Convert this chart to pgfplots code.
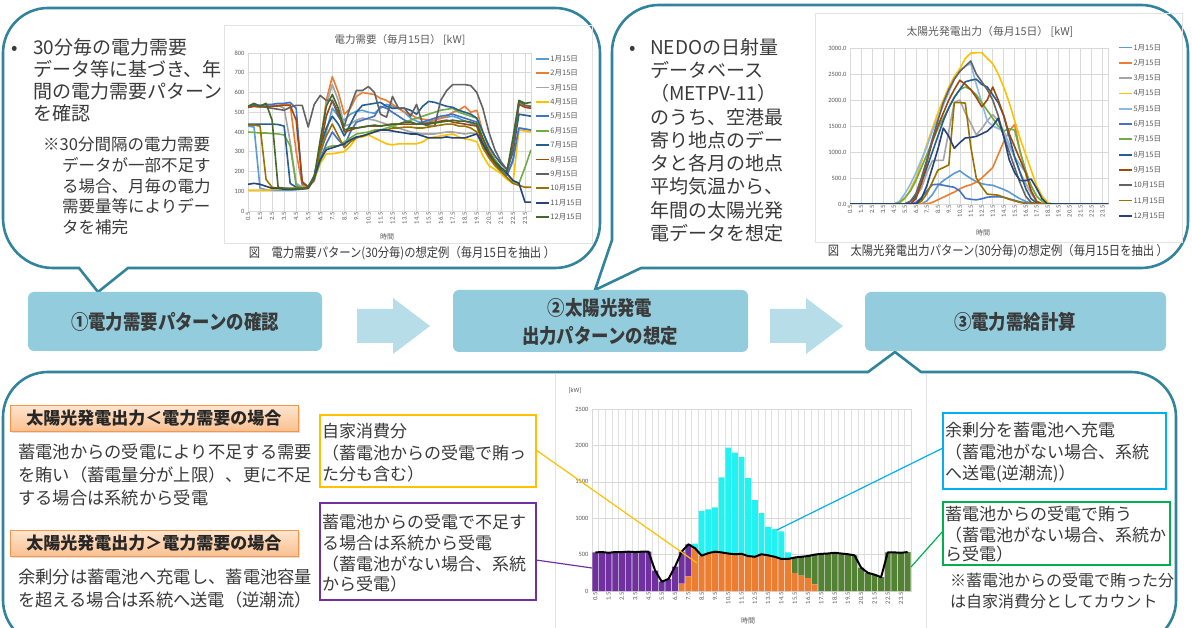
\documentclass[border=0pt]{standalone}
\usepackage{pgfplots}
\pgfplotsset{compat=1.18}
\usepackage{pgfplotstable}
\usepackage{fontspec}
\setmainfont{Noto Sans CJK JP}
\newfontfamily\numfont{Carlito}
\newfontfamily\condfont[FakeStretch=0.87]{Noto Sans CJK JP}

\definecolor{bubcol}{HTML}{31849B}
\definecolor{boxfill}{HTML}{93CDDD}
\definecolor{arrowfill}{HTML}{B7DEE8}
\definecolor{txt}{HTML}{3A3A3A}
\definecolor{gridc}{HTML}{D9D9D9}
\definecolor{tickc}{HTML}{595959}
\definecolor{framec}{HTML}{E3E3E3}
\definecolor{ybox}{HTML}{FFC000}
\definecolor{pbox}{HTML}{7030A0}
\definecolor{cbox}{HTML}{00B0F0}
\definecolor{gbox}{HTML}{00B050}
\definecolor{hdrline}{HTML}{F79646}
\definecolor{hdrtop}{HTML}{FDE5D0}
\definecolor{hdrbot}{HTML}{FAC090}
\definecolor{bpur}{HTML}{7030A0}
\definecolor{bora}{HTML}{ED7D31}
\definecolor{bcya}{HTML}{22F2F2}
\definecolor{bgre}{HTML}{548235}
% chart 1 series colours
\definecolor{cA}{HTML}{5B9BD5}\definecolor{cB}{HTML}{ED7D31}\definecolor{cC}{HTML}{A5A5A5}
\definecolor{cD}{HTML}{FFC000}\definecolor{cE}{HTML}{4472C4}\definecolor{cF}{HTML}{70AD47}
\definecolor{cG}{HTML}{255E91}\definecolor{cH}{HTML}{9E480E}\definecolor{cI}{HTML}{636363}
\definecolor{cJ}{HTML}{997300}\definecolor{cK}{HTML}{264478}\definecolor{cL}{HTML}{43682B}
% chart 2 series colours
\definecolor{dA}{HTML}{5B9BD5}\definecolor{dB}{HTML}{ED7D31}\definecolor{dC}{HTML}{A5A5A5}
\definecolor{dD}{HTML}{FFC000}\definecolor{dE}{HTML}{8DB9E6}\definecolor{dF}{HTML}{4472C4}
\definecolor{dG}{HTML}{70AD47}\definecolor{dH}{HTML}{255E91}\definecolor{dI}{HTML}{9E480E}
\definecolor{dJ}{HTML}{636363}\definecolor{dK}{HTML}{997300}\definecolor{dL}{HTML}{264478}

% ---------- chart 1: electricity demand (kW), 48 half-hours 0.5 ... 24.0
\pgfplotstableread[row sep=\\]{v\\430\\425\\115\\108\\105\\105\\105\\105\\108\\110\\115\\160\\280\\400\\520\\480\\460\\490\\505\\510\\500\\495\\520\\540\\530\\520\\500\\470\\455\\445\\450\\460\\470\\475\\480\\470\\455\\445\\430\\360\\300\\250\\210\\180\\250\\420\\415\\410\\}\eA
\pgfplotstableread[row sep=\\]{v\\525\\530\\525\\530\\530\\535\\540\\540\\300\\130\\120\\160\\330\\560\\680\\600\\490\\520\\580\\600\\595\\590\\570\\560\\540\\520\\500\\490\\470\\465\\460\\460\\470\\480\\500\\510\\530\\500\\510\\400\\320\\260\\220\\200\\330\\550\\530\\525\\}\eB
\pgfplotstableread[row sep=\\]{v\\530\\535\\530\\535\\535\\535\\520\\350\\140\\120\\120\\150\\320\\540\\640\\560\\430\\440\\460\\470\\465\\460\\450\\440\\430\\420\\410\\400\\395\\390\\390\\390\\395\\400\\400\\395\\390\\395\\390\\340\\280\\240\\210\\200\\300\\545\\535\\530\\}\eC
\pgfplotstableread[row sep=\\]{v\\105\\105\\105\\105\\108\\110\\110\\110\\112\\112\\115\\160\\240\\290\\290\\295\\300\\330\\370\\375\\385\\370\\355\\340\\335\\340\\340\\340\\340\\350\\370\\375\\380\\385\\390\\375\\365\\360\\350\\280\\230\\210\\190\\160\\140\\410\\405\\400\\}\eD
\pgfplotstableread[row sep=\\]{v\\530\\540\\535\\540\\540\\545\\545\\550\\520\\140\\125\\170\\260\\340\\400\\360\\330\\400\\450\\460\\470\\480\\530\\520\\500\\480\\460\\450\\440\\450\\460\\470\\480\\485\\490\\480\\470\\460\\450\\340\\280\\240\\200\\180\\260\\420\\415\\410\\}\eE
\pgfplotstableread[row sep=\\]{v\\400\\398\\395\\395\\392\\390\\385\\330\\130\\115\\120\\160\\250\\320\\330\\330\\350\\370\\390\\395\\400\\410\\410\\420\\430\\440\\450\\460\\470\\480\\490\\500\\510\\515\\520\\500\\490\\480\\470\\360\\300\\260\\220\\190\\150\\140\\220\\310\\}\eF
\pgfplotstableread[row sep=\\]{v\\440\\440\\440\\440\\440\\438\\430\\140\\120\\115\\120\\180\\320\\420\\480\\440\\380\\440\\500\\535\\540\\545\\550\\530\\520\\520\\520\\510\\490\\530\\555\\550\\540\\530\\525\\510\\500\\490\\470\\400\\330\\280\\240\\210\\300\\490\\485\\480\\}\eG
\pgfplotstableread[row sep=\\]{v\\525\\530\\528\\530\\530\\532\\535\\535\\460\\150\\120\\160\\320\\480\\560\\500\\400\\410\\420\\425\\430\\430\\430\\435\\440\\440\\440\\440\\440\\440\\445\\450\\455\\460\\450\\445\\440\\435\\430\\340\\280\\240\\210\\200\\320\\540\\525\\520\\}\eH
\pgfplotstableread[row sep=\\]{v\\530\\535\\530\\525\\520\\515\\510\\525\\535\\535\\425\\540\\585\\560\\560\\480\\430\\530\\610\\610\\630\\600\\490\\475\\580\\520\\520\\480\\540\\440\\430\\430\\560\\610\\640\\640\\640\\635\\600\\520\\400\\310\\250\\210\\310\\555\\535\\530\\}\eI
\pgfplotstableread[row sep=\\]{v\\435\\435\\430\\160\\120\\115\\115\\115\\115\\115\\118\\170\\300\\380\\440\\380\\320\\350\\370\\380\\390\\400\\410\\410\\420\\420\\425\\425\\420\\420\\425\\430\\435\\440\\440\\430\\430\\420\\400\\320\\270\\230\\200\\170\\140\\130\\120\\120\\}\eJ
\pgfplotstableread[row sep=\\]{v\\135\\140\\135\\125\\115\\115\\110\\110\\110\\112\\115\\170\\260\\310\\320\\330\\340\\360\\375\\380\\390\\400\\410\\410\\405\\400\\395\\390\\390\\380\\370\\370\\370\\375\\370\\370\\370\\380\\390\\340\\290\\250\\220\\190\\155\\140\\45\\45\\}\eK
\pgfplotstableread[row sep=\\]{v\\530\\545\\530\\545\\460\\120\\115\\112\\112\\112\\118\\170\\360\\530\\590\\520\\410\\420\\420\\425\\430\\435\\430\\435\\440\\440\\450\\450\\440\\440\\440\\445\\450\\455\\460\\455\\455\\450\\440\\370\\300\\250\\210\\200\\370\\560\\545\\550\\}\eL

% ---------- chart 2: PV output (kW)
\pgfplotstableread[row sep=\\]{v\\0\\0\\0\\0\\0\\0\\0\\0\\0\\0\\0\\0\\0\\0\\60\\180\\350\\450\\520\\590\\640\\560\\490\\430\\390\\370\\360\\320\\280\\230\\160\\100\\50\\20\\0\\0\\0\\0\\0\\0\\0\\0\\0\\0\\0\\0\\0\\0\\}\sA
\pgfplotstableread[row sep=\\]{v\\0\\0\\0\\0\\0\\0\\0\\0\\0\\0\\0\\0\\0\\0\\0\\30\\80\\130\\180\\230\\290\\340\\370\\420\\500\\600\\700\\950\\1200\\1400\\1530\\1000\\600\\250\\50\\0\\0\\0\\0\\0\\0\\0\\0\\0\\0\\0\\0\\0\\}\sB
\pgfplotstableread[row sep=\\]{v\\0\\0\\0\\0\\0\\0\\0\\0\\0\\0\\0\\50\\150\\300\\600\\830\\840\\840\\1400\\1950\\2000\\1750\\1550\\1330\\1450\\1600\\1720\\1600\\1400\\1150\\900\\600\\400\\200\\50\\0\\0\\0\\0\\0\\0\\0\\0\\0\\0\\0\\0\\0\\}\sC
\pgfplotstableread[row sep=\\]{v\\0\\0\\0\\0\\0\\0\\0\\0\\0\\20\\100\\280\\500\\800\\1150\\1450\\1750\\2000\\2250\\2450\\2600\\2800\\2900\\2910\\2910\\2800\\2700\\2500\\2250\\1950\\1600\\1250\\950\\650\\350\\150\\30\\0\\0\\0\\0\\0\\0\\0\\0\\0\\0\\0\\}\sD
\pgfplotstableread[row sep=\\]{v\\0\\0\\0\\0\\0\\0\\0\\0\\0\\50\\200\\380\\600\\850\\1100\\1400\\1650\\1900\\2150\\2400\\2550\\2650\\2700\\2300\\1950\\1600\\1500\\1450\\1400\\1100\\900\\750\\600\\350\\150\\50\\0\\0\\0\\0\\0\\0\\0\\0\\0\\0\\0\\0\\}\sE
\pgfplotstableread[row sep=\\]{v\\0\\0\\0\\0\\0\\0\\0\\0\\0\\0\\0\\0\\30\\120\\250\\370\\380\\360\\340\\320\\250\\110\\90\\80\\100\\130\\140\\140\\130\\100\\70\\40\\20\\0\\0\\0\\0\\0\\0\\0\\0\\0\\0\\0\\0\\0\\0\\0\\}\sF
\pgfplotstableread[row sep=\\]{v\\0\\0\\0\\0\\0\\0\\0\\0\\0\\30\\120\\250\\450\\700\\950\\1200\\1450\\1650\\1850\\2050\\2200\\2250\\2200\\2100\\1950\\1800\\1650\\1500\\1400\\1450\\1420\\1000\\650\\350\\150\\50\\0\\0\\0\\0\\0\\0\\0\\0\\0\\0\\0\\0\\}\sG
\pgfplotstableread[row sep=\\]{v\\0\\0\\0\\0\\0\\0\\0\\0\\0\\0\\0\\50\\150\\400\\700\\1000\\1300\\1600\\1850\\2050\\2200\\2350\\2380\\2400\\2300\\2250\\2100\\1950\\1700\\1300\\900\\600\\300\\100\\20\\0\\0\\0\\0\\0\\0\\0\\0\\0\\0\\0\\0\\0\\}\sH
\pgfplotstableread[row sep=\\]{v\\0\\0\\0\\0\\0\\0\\0\\0\\0\\0\\0\\0\\100\\400\\800\\1200\\1500\\1750\\2000\\2200\\2380\\2300\\2200\\2050\\1870\\2000\\2250\\2000\\1700\\1350\\1100\\850\\600\\250\\50\\0\\0\\0\\0\\0\\0\\0\\0\\0\\0\\0\\0\\0\\}\sI
\pgfplotstableread[row sep=\\]{v\\0\\0\\0\\0\\0\\0\\0\\0\\0\\0\\0\\50\\200\\500\\850\\1250\\1600\\1950\\2200\\2400\\2550\\2650\\2750\\2500\\2350\\2200\\2000\\1700\\1300\\1000\\700\\400\\150\\30\\0\\0\\0\\0\\0\\0\\0\\0\\0\\0\\0\\0\\0\\0\\}\sJ
\pgfplotstableread[row sep=\\]{v\\0\\0\\0\\0\\0\\0\\0\\0\\0\\0\\0\\0\\0\\50\\200\\420\\650\\700\\750\\1950\\1950\\1940\\1100\\500\\330\\190\\180\\170\\130\\90\\60\\30\\10\\0\\0\\0\\0\\0\\0\\0\\0\\0\\0\\0\\0\\0\\0\\0\\}\sK
\pgfplotstableread[row sep=\\]{v\\0\\0\\0\\0\\0\\0\\0\\0\\0\\0\\0\\0\\0\\100\\350\\700\\1050\\1460\\1300\\1070\\1180\\1270\\1280\\1300\\1350\\1400\\1500\\1650\\1300\\850\\600\\450\\450\\480\\300\\100\\0\\0\\0\\0\\0\\0\\0\\0\\0\\0\\0\\0\\}\sL

% ---------- chart 3: supply / demand balance (kW)
\pgfplotstableread[row sep=\\]{v\\0\\0\\0\\0\\0\\0\\0\\0\\0\\0\\0\\0\\0\\100\\200\\587\\486\\520\\540\\530\\515\\505\\510\\480\\470\\505\\490\\470\\440\\440\\250\\210\\180\\90\\0\\0\\0\\0\\0\\0\\0\\0\\0\\0\\0\\0\\0\\0\\}\bO
\pgfplotstableread[row sep=\\]{v\\530\\535\\525\\535\\535\\540\\535\\540\\540\\280\\128\\165\\335\\441\\442\\0\\0\\0\\0\\0\\0\\0\\0\\0\\0\\0\\0\\0\\0\\0\\0\\0\\0\\0\\0\\0\\0\\0\\0\\0\\0\\0\\0\\0\\0\\0\\0\\0\\}\bP
\pgfplotstableread[row sep=\\]{v\\0\\0\\0\\0\\0\\0\\0\\0\\0\\0\\0\\0\\0\\0\\0\\63\\614\\600\\610\\1030\\1455\\1395\\1330\\1070\\780\\565\\390\\380\\380\\90\\0\\0\\0\\0\\0\\0\\0\\0\\0\\0\\0\\0\\0\\0\\0\\0\\0\\0\\}\bC
\pgfplotstableread[row sep=\\]{v\\0\\0\\0\\0\\0\\0\\0\\0\\0\\0\\0\\0\\0\\0\\0\\0\\0\\0\\0\\0\\0\\0\\0\\0\\0\\0\\0\\0\\0\\0\\210\\260\\300\\410\\510\\515\\525\\515\\505\\490\\320\\250\\225\\190\\530\\530\\525\\535\\}\bG
\pgfplotstableread[row sep=\\]{v\\530\\535\\525\\535\\535\\540\\535\\540\\540\\280\\128\\165\\335\\541\\642\\587\\486\\520\\540\\530\\515\\505\\510\\480\\470\\505\\490\\470\\440\\440\\460\\470\\480\\500\\510\\515\\525\\515\\505\\490\\320\\250\\225\\190\\530\\530\\525\\535\\}\bD

\pgfplotsset{
  linechart/.style={
    scale only axis, anchor=north west,
    xmin=0, xmax=47, ymin=0,
    axis line style={draw=gridc, line width=0.5pt},
    grid=major, grid style={draw=gridc, line width=0.5pt},
    major tick length=0pt, minor tick length=0pt,
    xtick={0,2,...,46},
    xticklabel={\pgfmathparse{\tick/2+0.5}\pgfmathprintnumber[fixed,fixed zerofill,precision=1]{\pgfmathresult}},
    xticklabel style={rotate=90, anchor=east, inner sep=1.5pt},
    /pgf/number format/assume math mode=true,
    tick label style={font=\numfont\fontsize{6.5}{7}\selectfont, text=tickc},
    legend cell align=left,
    legend image code/.code={\draw[##1, line width=1.8pt] (0pt,0pt) -- (13pt,0pt);},
    every axis plot/.append style={line width=1.6pt, mark=none, line join=round},
  },
}

\tikzset{
  bub/.style={draw=bubcol, line width=2.6pt, fill=white, line join=miter},
  tl/.style={anchor=base west, inner sep=0pt, text=txt},
}

\begin{document}
\begin{tikzpicture}[x=1pt,y=1pt]
\path[use as bounding box, fill=white] (0,0) rectangle (1192,-628);
\coordinate (PA) at (248,-53);
\coordinate (PB) at (850,-48);
\coordinate (PC) at (592,-409);

% ================= speech bubbles
\draw[bub] (48,-8) -- (555,-8) arc[start angle=90,end angle=0,radius=45] -- (600,-223)
  arc[start angle=0,end angle=-90,radius=45] -- (128,-268) -- (98,-292) -- (79,-268) -- (53,-268)
  arc[start angle=-90,end angle=-180,radius=50] -- (3,-53) arc[start angle=180,end angle=90,radius=45] -- cycle;
\draw[bub] (659,-5) -- (1141,-5) arc[start angle=90,end angle=0,radius=47] -- (1188,-221)
  arc[start angle=0,end angle=-90,radius=47] -- (641,-268) -- (595,-290) -- (612,-240) -- (612,-52)
  arc[start angle=180,end angle=90,radius=47] -- cycle;
\draw[bub] (48,-372) -- (868,-372) -- (895,-352) -- (921,-372) -- (1131,-372)
  arc[start angle=90,end angle=0,radius=45] -- (1176,-600) arc[start angle=0,end angle=-90,radius=45]
  -- (48,-645) arc[start angle=-90,end angle=-180,radius=45] -- (3,-417)
  arc[start angle=180,end angle=90,radius=45] -- cycle;

% ================= process boxes and arrows
\fill[boxfill, rounded corners=6pt] (28,-292) rectangle (322,-351);
\fill[boxfill, rounded corners=6pt] (453,-290) rectangle (748,-352);
\fill[boxfill, rounded corners=6pt] (865,-292) rectangle (1166,-351);
\fill[arrowfill] (357,-309) -- (393,-309) -- (393,-298) -- (430,-326) -- (393,-354) -- (393,-343) -- (357,-343) -- cycle;
\fill[arrowfill] (770,-309) -- (806,-309) -- (806,-298) -- (843,-326) -- (806,-354) -- (806,-343) -- (770,-343) -- cycle;
\node[font=\condfont\bfseries\fontsize{20}{20}\selectfont, text=txt] at (175,-322) {①電力需要パターンの確認};
\node[font=\condfont\bfseries\fontsize{20}{20}\selectfont, text=txt] at (600,-308) {②太陽光発電};
\node[font=\condfont\bfseries\fontsize{20}{20}\selectfont, text=txt] at (600,-336) {出力パターンの想定};
\node[font=\condfont\bfseries\fontsize{20}{20}\selectfont, text=txt] at (1015,-322) {③電力需給計算};

% ================= bubble 1 text
\begin{scope}[font=\fontsize{19}{19}\selectfont]
\node[tl] at (11,-55) {•};
\node[tl] at (33,-55) {30分毎の電力需要};
\node[tl] at (33,-77) {データ等に基づき、年};
\node[tl] at (33,-99) {間の電力需要パターン};
\node[tl] at (33,-121) {を確認};
\end{scope}
\begin{scope}[font=\fontsize{16.5}{16.5}\selectfont]
\node[tl] at (43,-151) {※30分間隔の電力需要};
\node[tl] at (62,-172) {データが一部不足す};
\node[tl] at (62,-193) {る場合、月毎の電力};
\node[tl] at (62,-213) {需要量等によりデー};
\node[tl] at (62,-234) {タを補完};
\end{scope}

% ================= bubble 2 text
\begin{scope}[font=\fontsize{19}{19}\selectfont]
\node[tl] at (629,-54.2) {•};
\node[tl] at (650,-54.2) {NEDOの日射量};
\node[tl] at (650,-77.5) {データベース};
\node[tl] at (650,-100.8) {（METPV-11）};
\node[tl] at (650,-124.1) {のうち、空港最};
\node[tl] at (650,-147.4) {寄り地点のデー};
\node[tl] at (650,-170.7) {タと各月の地点};
\node[tl] at (650,-194) {平均気温から、};
\node[tl] at (650,-217.3) {年間の太陽光発};
\node[tl] at (650,-240.6) {電データを想定};
\end{scope}

% ================= chart 1 frame
\draw[framec, line width=0.6pt] (224,-25) rectangle (592,-243);
\node[font=\fontsize{10.5}{11}\selectfont, text=tickc] at (400,-40) {電力需要（毎月15日） [kW]};
\node[font=\fontsize{7}{7}\selectfont, text=tickc] at (387,-237) {時間};
\node[font=\condfont\fontsize{13}{13}\selectfont, text=txt] at (402,-253) {図　電力需要パターン(30分毎)の想定例（毎月15日を抽出 ）};

\begin{axis}[linechart, at={(PA)}, width=283pt, height=158pt, ymax=800,
  ytick={0,100,...,800},
  legend style={at={(1.014,0.99)}, anchor=north west, draw=none, fill=none,
    font=\fontsize{7.5}{8}\selectfont, inner sep=0pt, row sep=6.4pt,
    nodes={inner sep=0.5pt, text height=6pt, text depth=1pt, text=tickc}}]
\addplot[cA] table[x expr=\coordindex, y=v] {\eA}; \addlegendentry{1月15日}
\addplot[cB] table[x expr=\coordindex, y=v] {\eB}; \addlegendentry{2月15日}
\addplot[cC] table[x expr=\coordindex, y=v] {\eC}; \addlegendentry{3月15日}
\addplot[cD] table[x expr=\coordindex, y=v] {\eD}; \addlegendentry{4月15日}
\addplot[cE] table[x expr=\coordindex, y=v] {\eE}; \addlegendentry{5月15日}
\addplot[cF] table[x expr=\coordindex, y=v] {\eF}; \addlegendentry{6月15日}
\addplot[cG] table[x expr=\coordindex, y=v] {\eG}; \addlegendentry{7月15日}
\addplot[cH] table[x expr=\coordindex, y=v] {\eH}; \addlegendentry{8月15日}
\addplot[cI] table[x expr=\coordindex, y=v] {\eI}; \addlegendentry{9月15日}
\addplot[cJ] table[x expr=\coordindex, y=v] {\eJ}; \addlegendentry{10月15日}
\addplot[cK] table[x expr=\coordindex, y=v] {\eK}; \addlegendentry{11月15日}
\addplot[cL] table[x expr=\coordindex, y=v] {\eL}; \addlegendentry{12月15日}
\end{axis}

% ================= chart 2 frame
\draw[framec, line width=0.6pt] (815,-13) rectangle (1182,-242);
\node[font=\fontsize{10.8}{11}\selectfont, text=tickc] at (990,-32) {太陽光発電出力（毎月15日） [kW]};
\node[font=\fontsize{7}{7}\selectfont, text=tickc] at (983,-233) {時間};
\node[font=\condfont\fontsize{13}{13}\selectfont, text=txt] at (998,-251) {図　太陽光発電出力パターン(30分毎)の想定例（毎月15日を抽出 ）};

\begin{axis}[linechart, at={(PB)}, width=258pt, height=156pt, ymax=3000,
  ytick={0,500,...,3000},
  yticklabel style={/pgf/number format/.cd, fixed, fixed zerofill, precision=1, 1000 sep={}},
  legend style={at={(1.039,1.03)}, anchor=north west, draw=none, fill=none,
    font=\fontsize{7.5}{8}\selectfont, inner sep=0pt, row sep=7.3pt,
    nodes={inner sep=0.5pt, text height=6pt, text depth=1pt, text=tickc}}]
\addplot[dA] table[x expr=\coordindex, y=v] {\sA}; \addlegendentry{1月15日}
\addplot[dB] table[x expr=\coordindex, y=v] {\sB}; \addlegendentry{2月15日}
\addplot[dC] table[x expr=\coordindex, y=v] {\sC}; \addlegendentry{3月15日}
\addplot[dD] table[x expr=\coordindex, y=v] {\sD}; \addlegendentry{4月15日}
\addplot[dE] table[x expr=\coordindex, y=v] {\sE}; \addlegendentry{5月15日}
\addplot[dF] table[x expr=\coordindex, y=v] {\sF}; \addlegendentry{6月15日}
\addplot[dG] table[x expr=\coordindex, y=v] {\sG}; \addlegendentry{7月15日}
\addplot[dH] table[x expr=\coordindex, y=v] {\sH}; \addlegendentry{8月15日}
\addplot[dI] table[x expr=\coordindex, y=v] {\sI}; \addlegendentry{9月15日}
\addplot[dJ] table[x expr=\coordindex, y=v] {\sJ}; \addlegendentry{10月15日}
\addplot[dK] table[x expr=\coordindex, y=v] {\sK}; \addlegendentry{11月15日}
\addplot[dL] table[x expr=\coordindex, y=v] {\sL}; \addlegendentry{12月15日}
\end{axis}

% ================= bottom bubble: left text
\fill[black!12] (12,-407) rectangle (300,-433);
\shade[top color=hdrtop, bottom color=hdrbot, draw=hdrline, line width=0.8pt] (10,-405) rectangle (298,-431);
\node[font=\bfseries\fontsize{17}{17}\selectfont, text=black!85] at (154,-418) {太陽光発電出力＜電力需要の場合};
\fill[black!12] (12,-532) rectangle (300,-558);
\shade[top color=hdrtop, bottom color=hdrbot, draw=hdrline, line width=0.8pt] (10,-530) rectangle (298,-556);
\node[font=\bfseries\fontsize{17}{17}\selectfont, text=black!85] at (154,-543) {太陽光発電出力＞電力需要の場合};
\begin{scope}[font=\fontsize{17.3}{17.3}\selectfont]
\node[tl] at (18,-458.6) {蓄電池からの受電により不足する需要};
\node[tl] at (18,-481.6) {を賄い（蓄電量分が上限）、更に不足};
\node[tl] at (18,-504.6) {する場合は系統から受電};
\node[tl] at (18,-583.6) {余剰分は蓄電池へ充電し、蓄電池容量};
\node[tl] at (18,-606.6) {を超える場合は系統へ送電（逆潮流）};
\end{scope}

% ================= annotation boxes
\draw[ybox, line width=1.5pt] (320,-415) rectangle (536,-487);
\draw[pbox, line width=1.5pt] (320,-503) rectangle (536,-600);
\draw[cbox, line width=1.5pt] (943,-413) rectangle (1166,-489);
\draw[gbox, line width=1.5pt] (943,-502) rectangle (1170,-565);
\begin{scope}[font=\fontsize{17}{17}\selectfont]
\node[tl] at (322,-437.5) {自家消費分};
\node[tl] at (322,-459.5) {（蓄電池からの受電で賄っ};
\node[tl] at (322,-480.5) {た分も含む）};
\node[tl] at (322,-528.5) {蓄電池からの受電で不足す};
\node[tl] at (322,-549.5) {る場合は系統から受電};
\node[tl] at (322,-570.5) {（蓄電池がない場合、系統};
\node[tl] at (322,-590.5) {から受電）};
\node[tl] at (945,-436.5) {余剰分を蓄電池へ充電};
\node[tl] at (945,-458.5) {（蓄電池がない場合、系統};
\node[tl] at (945,-479.5) {へ送電(逆潮流)）};
\node[tl] at (945,-520.5) {蓄電池からの受電で賄う};
\node[tl] at (945,-541.5) {（蓄電池がない場合、系統か};
\node[tl] at (945,-560.5) {ら受電）};
\end{scope}
\begin{scope}[font=\fontsize{16}{16}\selectfont]
\node[tl] at (950,-586) {※蓄電池からの受電で賄った分};
\node[tl] at (950,-607) {は自家消費分としてカウント};
\end{scope}

% ================= chart 3
\draw[framec, line width=0.6pt] (555,-374) -- (555,-628);
\draw[framec, line width=0.6pt] (926,-374) -- (926,-628);
\node[font=\numfont\fontsize{6.5}{7}\selectfont, text=tickc] at (575,-391) {[kW]};
\node[font=\fontsize{7}{7}\selectfont, text=tickc] at (748,-621) {時間};

\begin{axis}[at={(PC)}, anchor=north west, scale only axis, width=319pt, height=182pt,
  xmin=-0.5, xmax=47.5, ymin=0, ymax=2500,
  ybar stacked, bar width=5.9pt,
  axis line style={draw=gridc, line width=0.5pt},
  ytick={0,500,...,2500}, ymajorgrids=true,
  xtick={0,2,...,46}, minor xtick={-0.5,0.5,...,47.5}, xminorgrids=true,
  grid style={draw=gridc, line width=0.5pt},
  minor grid style={draw=gridc!80, line width=0.4pt},
  major tick length=0pt, minor tick length=0pt,
  xticklabel={\pgfmathparse{\tick/2+0.5}\pgfmathprintnumber[fixed,fixed zerofill,precision=1]{\pgfmathresult}},
  xticklabel style={rotate=90, anchor=east, inner sep=1.5pt},
  /pgf/number format/assume math mode=true,
  yticklabel style={/pgf/number format/.cd, 1000 sep={}},
  tick label style={font=\numfont\fontsize{6.5}{7}\selectfont, text=tickc}]
\addplot[fill=bora, draw=none] table[x expr=\coordindex, y=v] {\bO};
\addplot[fill=bpur, draw=none] table[x expr=\coordindex, y=v] {\bP};
\addplot[fill=bcya, draw=none] table[x expr=\coordindex, y=v] {\bC};
\addplot[fill=bgre, draw=none] table[x expr=\coordindex, y=v] {\bG};
\end{axis}
\begin{axis}[at={(PC)}, anchor=north west, scale only axis, width=319pt, height=182pt,
  xmin=-0.5, xmax=47.5, ymin=0, ymax=2500, hide axis]
\addplot[black, line width=2pt, mark=none, line join=round] table[x expr=\coordindex, y=v] {\bD};
\end{axis}

% connector lines
\draw[ybox, line width=1.2pt] (536,-450) -- (697,-563);
\draw[pbox, line width=1.2pt] (536,-560) -- (592,-568);
\draw[cbox, line width=1.2pt] (777,-530) -- (943,-448);
\draw[gbox, line width=1.2pt] (911,-567) -- (943,-531);
\end{tikzpicture}
\end{document}
